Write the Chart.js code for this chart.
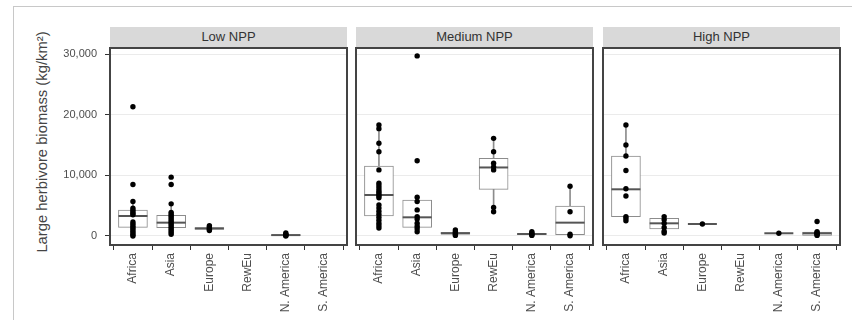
<!DOCTYPE html>
<html>
<head>
<meta charset="utf-8">
<script src="https://cdn.jsdelivr.net/npm/chart.js@4.4.1/dist/chart.umd.min.js"></script>
<style>
    body { margin: 0; background: #fff; }
    #page { position: relative; width: 853px; height: 320px; overflow: hidden; background: #fff;
            font-family: "Liberation Sans", Arial, sans-serif; }
    #frame { position: absolute; left: 13px; top: 6px; width: 838px; height: 330px;
             border-top: 1px solid #c8c8c8; border-left: 1px solid #c8c8c8; }
    .strip { position: absolute; top: 27px; height: 20px; width: 237px; background: #d9d9d9;
             color: #333; font-size: 13px; line-height: 20px; text-align: center; }
    #yTitle { position: absolute; left: 42px; top: 142px; width: 260px; margin-left: -130px; margin-top: -9px;
              height: 18px; line-height: 18px; text-align: center; white-space: nowrap;
              font-size: 14.8px; color: #444; transform: rotate(-90deg); }
    canvas { position: absolute; top: 47px; }
</style>
</head>
<body>
<div id="page">
    <div id="frame"></div>
    <div class="strip" id="strip0" style="left:110px"></div>
    <div class="strip" id="strip1" style="left:356px"></div>
    <div class="strip" id="strip2" style="left:603px"></div>
    <div id="yTitle"></div>
    <canvas id="panel0" width="350" height="273" style="left:0px"></canvas>
    <canvas id="panel1" width="250" height="273" style="left:350px"></canvas>
    <canvas id="panel2" width="253" height="273" style="left:600px"></canvas>
</div>
<script>
const regions = ['Africa', 'Asia', 'Europe', 'RewEu', 'N. America', 'S. America'];
const panelTitles = ['Low NPP', 'Medium NPP', 'High NPP'];
const yTicks = [0, 10000, 20000, 30000];
const yTitle = 'Large herbivore biomass (kg/km²)';

// box rows: [lower whisker, q1, median, q3, upper whisker]
const lowBoxes = [
    [0, 1430, 3300, 4290, 5700],
    [300, 1370, 2200, 3410, 5300],
    [900, 1100, 1250, 1400, 1700],
    null,
    [0, 50, 150, 250, 500],
    null
];
const lowPoints = [
    [21300, 8500, 5700, 4600, 4300, 4000, 3700, 3500, 2300, 2000, 1700, 1400, 1100, 800, 500, 200, 0],
    [9700, 8500, 5300, 3900, 3600, 3300, 3000, 2700, 2400, 2100, 1800, 1500, 1200, 900, 600, 300],
    [1700, 1500, 1300, 1100, 900],
    [],
    [500, 300, 200, 100, 0],
    []
];

const mediumBoxes = [
    [1300, 3300, 6760, 11540, 18300],
    [700, 1430, 3080, 5930, 6400],
    [100, 300, 450, 600, 1000],
    [4000, 7700, 11300, 12800, 16100],
    [100, 200, 330, 450, 700],
    [50, 230, 2200, 4940, 8200]
];
const mediumPoints = [
    [18300, 17700, 15300, 13900, 10900, 8700, 8300, 7900, 7500, 7200, 6900, 6600, 6300, 5100, 4600, 4100, 3600, 3100, 2600, 2100, 1700, 1300],
    [29700, 12400, 6400, 5700, 4300, 3200, 2800, 2100, 1600, 1200, 700],
    [1000, 700, 500, 300, 100],
    [16100, 13900, 12000, 11400, 10900, 4700, 4000],
    [700, 500, 330, 200, 100],
    [8200, 4000, 300, 50]
];

const highBoxes = [
    [2500, 3180, 7700, 13190, 18300],
    [500, 1150, 2090, 2910, 3200],
    [1980, 1980, 1980, 1980, 1980],
    null,
    [450, 450, 450, 450, 450],
    [100, 115, 450, 660, 700]
];
const highPoints = [
    [18300, 15000, 13200, 10800, 7800, 6600, 3200, 2900, 2500],
    [3200, 2700, 2100, 1400, 800, 500],
    [1980],
    [],
    [450],
    [2400, 700, 550, 400, 250, 100]
];

const boxColor = '#8c8c8c';

// outline around each panel's plot area
const panelBorder = {
    id: 'panelBorder',
    afterDatasetsDraw(chart) {
        const { ctx, chartArea } = chart;
        ctx.save();
        ctx.strokeStyle = '#444';
        ctx.lineWidth = 2;
        ctx.strokeRect(chartArea.left, chartArea.top, chartArea.right - chartArea.left, chartArea.bottom - chartArea.top);
        ctx.restore();
    }
};

function buildDatasets(boxes, points) {
    const whiskers = [], bodies = [], medians = [], dots = [];
    boxes.forEach((b, i) => {
        if (!b) return;
        whiskers.push({ x: i, y: [b[0], b[4]] });
        bodies.push({ x: i, y: [b[1], b[3]] });
        medians.push({ x: i, y: b[2] });
    });
    points.forEach((list, i) => list.forEach(v => dots.push({ x: i, y: v })));

    return [
        { type: 'scatter', data: dots, order: 0, pointRadius: 2.7, backgroundColor: '#000', borderWidth: 0 },
        { type: 'scatter', data: medians, order: 1, pointStyle: 'line', pointRadius: 14.5, borderColor: '#555', borderWidth: 2 },
        { type: 'bar', data: bodies, order: 2, barThickness: 29, grouped: false, backgroundColor: '#fff',
          borderColor: boxColor, borderWidth: 1, borderSkipped: false },
        { type: 'bar', data: whiskers, order: 3, barThickness: 1, grouped: false, backgroundColor: boxColor, borderWidth: 0 }
    ];
}

function makePanel(index, boxes, points, padding) {
    const first = index === 0;
    document.getElementById('strip' + index).textContent = panelTitles[index];

    const ctx = document.getElementById('panel' + index).getContext('2d');
    return new Chart(ctx, {
        type: 'bar',
        data: { datasets: buildDatasets(boxes, points) },
        options: {
            responsive: false,
            animation: false,
            layout: { padding: padding, autoPadding: false },
            plugins: { legend: { display: false }, tooltip: { enabled: false } },
            scales: {
                x: {
                    type: 'linear',
                    offset: false,
                    min: -0.6,
                    max: 5.6,
                    afterBuildTicks: s => { s.ticks = regions.map((_, i) => ({ value: i })); },
                    afterFit: s => { s.height = 75; s.paddingLeft = 0; s.paddingRight = 0; },
                    border: { display: false },
                    grid: { drawOnChartArea: false, drawTicks: true, tickLength: 5, tickColor: '#333' },
                    ticks: {
                        autoSkip: false,
                        maxRotation: 90,
                        minRotation: 90,
                        padding: 3,
                        color: '#4d4d4d',
                        font: { family: 'Liberation Sans', size: 12 },
                        callback: v => regions[v]
                    }
                },
                y: {
                    min: -1485,
                    max: 31000,
                    afterBuildTicks: s => { s.ticks = yTicks.map(v => ({ value: v })); },
                    afterFit: s => { s.width = first ? 80 : 0; s.paddingTop = 0; s.paddingBottom = 0; },
                    border: { display: false },
                    grid: { color: '#ebebeb', lineWidth: 1, drawTicks: first, tickLength: 5, tickColor: '#333' },
                    ticks: {
                        display: first,
                        padding: 8,
                        color: '#4d4d4d',
                        font: { family: 'Liberation Sans', size: 11 },
                        callback: v => v.toLocaleString('en-US')
                    }
                }
            }
        },
        plugins: [panelBorder]
    });
}

document.addEventListener('DOMContentLoaded', function() {
    document.getElementById('yTitle').textContent = yTitle;
    makePanel(0, lowBoxes, lowPoints, { left: 30, top: 1, right: 3, bottom: 0 });
    makePanel(1, mediumBoxes, mediumPoints, { left: 6, top: 1, right: 7, bottom: 0 });
    makePanel(2, highBoxes, highPoints, { left: 3, top: 1, right: 13, bottom: 0 });
});
</script>
</body>
</html>
